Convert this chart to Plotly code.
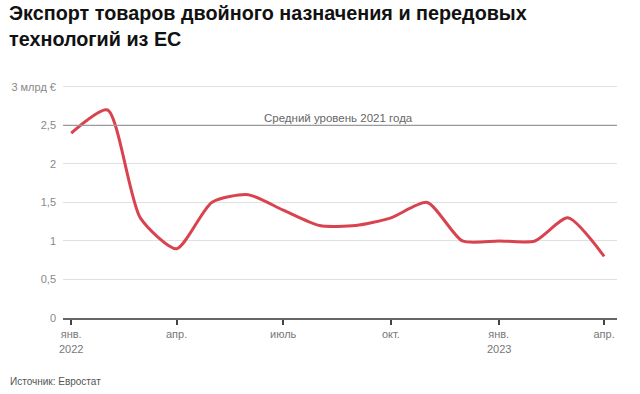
import plotly.graph_objects as go

months = ["2022-01-01", "2022-02-01", "2022-03-01", "2022-04-01", "2022-05-01", "2022-06-01",
          "2022-07-01", "2022-08-01", "2022-09-01", "2022-10-01", "2022-11-01", "2022-12-01",
          "2023-01-01", "2023-02-01", "2023-03-01", "2023-04-01"]
exports = [2.4, 2.7, 1.3, 0.9, 1.5, 1.6, 1.4, 1.2, 1.2, 1.3, 1.5, 1.0, 1.0, 1.0, 1.3, 0.8]

avg_2021 = 2.5
avg_label = "Средний уровень 2021 года"

x_tickvals = ["2022-01-01", "2022-04-01", "2022-07-01", "2022-10-01", "2023-01-01", "2023-04-01"]
x_ticktext = ["янв.", "апр.", "июль", "окт.", "янв.", "апр."]
year_pos = ["2022-01-01", "2023-01-01"]
year_text = ["2022", "2023"]
y_tickvals = [0, 0.5, 1, 1.5, 2, 2.5, 3]
y_ticktext = ["0", "0,5", "1", "1,5", "2", "2,5", "3 млрд €"]

title = "Экспорт товаров двойного назначения и передовых<br>технологий из ЕС"
source = "Источник: Евростат"

FONT = "Liberation Sans, Arial, sans-serif"

fig = go.Figure()
fig.add_trace(go.Scatter(
    x=months, y=exports, mode="lines",
    line=dict(color="#d9434f", width=3, shape="spline", smoothing=0.65),
    hoverinfo="x+y", showlegend=False,
))

fig.add_shape(type="line", xref="paper", x0=0, x1=1, yref="y", y0=avg_2021, y1=avg_2021,
              line=dict(color="#9a9a9a", width=1.3), layer="above")
fig.add_annotation(x="2022-08-17", y=avg_2021, text=avg_label, showarrow=False,
                   yanchor="bottom", yshift=-1,
                   font=dict(family=FONT, size=11.5, color="#666666"))

for xp, yt in zip(year_pos, year_text):
    fig.add_annotation(x=xp, y=0, yref="paper", text=yt, showarrow=False,
                       yanchor="top", yshift=-23,
                       font=dict(family=FONT, size=11, color="#777777"))

fig.add_annotation(x=0, y=1, xref="paper", yref="paper", xanchor="left", yanchor="top",
                   xshift=-56, yshift=83, text="<b>" + title + "</b>", showarrow=False, align="left",
                   font=dict(family=FONT, size=19.8, color="#111111"))
fig.add_annotation(x=0, y=0, xref="paper", yref="paper", xanchor="left", yanchor="top",
                   xshift=-55, yshift=-56, text=source, showarrow=False, align="left",
                   font=dict(family=FONT, size=10, color="#555555"))

fig.update_layout(
    width=640, height=394,
    margin=dict(l=63, r=23, t=83, b=76),
    paper_bgcolor="white", plot_bgcolor="white",
    font=dict(family=FONT, size=11, color="#777777"),
    xaxis=dict(
        type="date", range=["2021-12-25", "2023-04-12"],
        tickvals=x_tickvals, ticktext=x_ticktext,
        showgrid=False, showline=True, linecolor="#666666", linewidth=2,
        ticks="outside", ticklen=5, tickwidth=1.5, tickcolor="#444444",
        tickfont=dict(size=11, color="#777777"), zeroline=False,
    ),
    yaxis=dict(
        range=[0, 3.05], tickvals=y_tickvals, ticktext=y_ticktext,
        showgrid=True, gridcolor="#e0e0e0", gridwidth=1,
        zeroline=False, showline=False, ticks="", ticklabelstandoff=6,
        tickfont=dict(size=11, color="#888888"),
    ),
)

fig.write_html("out.html", config={"displayModeBar": False},
               post_script="document.body.style.margin='0';")
